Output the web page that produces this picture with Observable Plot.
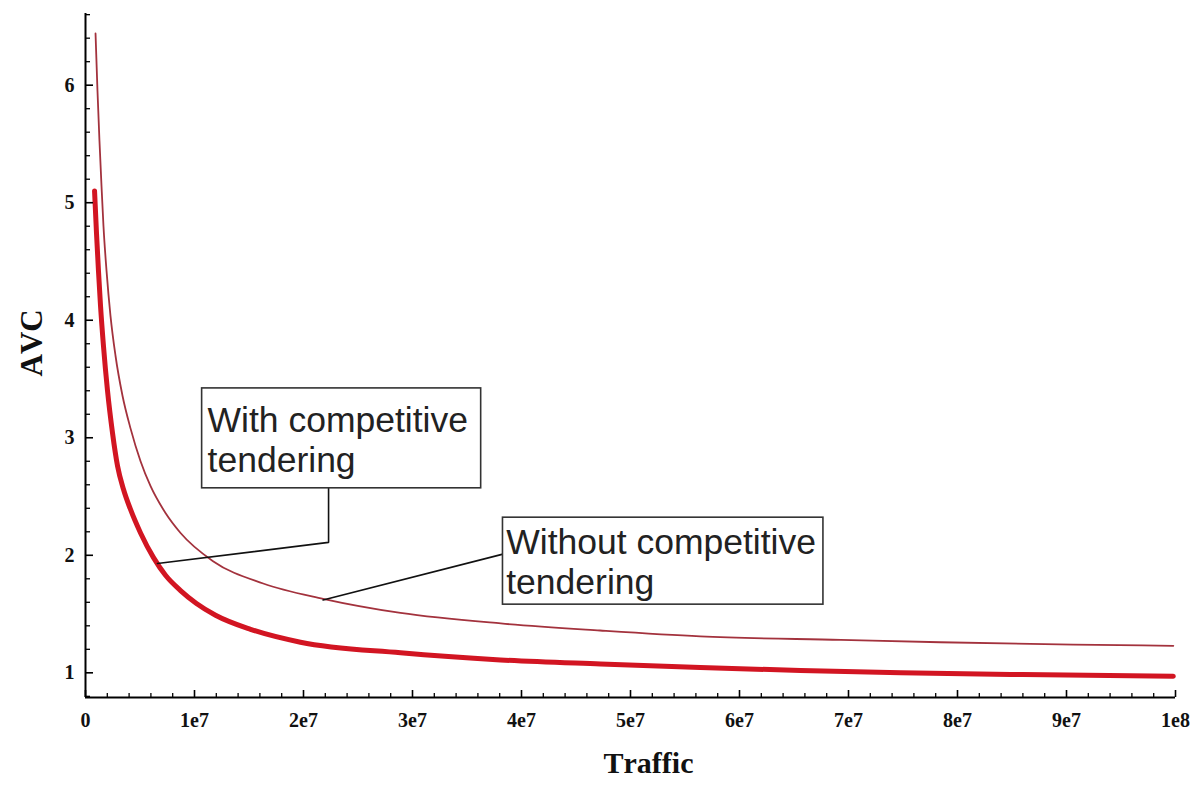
<!DOCTYPE html>
<html><head><meta charset="utf-8">
<script src="https://cdn.jsdelivr.net/npm/d3@7"></script>
<script src="https://cdn.jsdelivr.net/npm/@observablehq/plot@0.6"></script>
<style>body{margin:0;background:#fff} svg text{font-kerning:none}</style>
</head><body><div id="chart"></div>
<script>
// Series: "Without competitive tendering" (thin upper curve)
const withoutTraffic = [0.92e6, 1.10e6, 1.28e6, 1.47e6, 1.65e6, 1.93e6, 2.29e6, 2.75e6, 3.39e6, 4.13e6, 5.05e6, 5.96e6, 7.34e6, 8.72e6, 11.7e6, 16.3e6, 21.8e6, 28.9e6, 38.1e6, 47.2e6, 56.4e6, 69.3e6, 78.4e6, 90.6e6, 99.8e6];
const withoutAVC     = [6.44,  5.95,  5.53,  5.14,  4.80,  4.42,  4.04,  3.70,  3.36,  3.08,  2.80,  2.59,  2.36,  2.19,  1.95,  1.76,  1.63,  1.51,  1.42,  1.36,  1.31,  1.28,  1.26,  1.24,  1.23];
// Series: "With competitive tendering" (thick lower curve)
const withTraffic = [0.83e6, 1.01e6, 1.19e6, 1.38e6, 1.65e6, 2.02e6, 2.48e6, 2.94e6, 3.49e6, 4.13e6, 5.05e6, 6.24e6, 7.34e6, 8.72e6, 10.18e6, 11.93e6, 15.14e6, 19.72e6, 28.9e6, 38.07e6, 47.25e6, 56.4e6, 65.6e6, 74.8e6, 86.0e6, 99.8e6];
const withAVC     = [5.10,  4.74,  4.42,  4.12,  3.78,  3.40,  3.04,  2.76,  2.56,  2.39,  2.19,  1.98,  1.83,  1.70,  1.59,   1.49,   1.37,   1.26,   1.17,  1.11,   1.075,  1.045, 1.02,  1.00,  0.985, 0.97];

// Axes
const xTicks = [0, 1e7, 2e7, 3e7, 4e7, 5e7, 6e7, 7e7, 8e7, 9e7, 1e8];
const xTickLabels = ["0", "1e7", "2e7", "3e7", "4e7", "5e7", "6e7", "7e7", "8e7", "9e7", "1e8"];
const xMinorTicks = d3.range(0, 1e8 + 1, 2e6).filter(v => v % 1e7 !== 0);
const yTicks = [1, 2, 3, 4, 5, 6];
const yTickLabels = ["1", "2", "3", "4", "5", "6"];
const yMinorTicks = [0.8, 1.2, 1.4, 1.6, 1.8, 2.2, 2.4, 2.6, 2.8, 3.2, 3.4, 3.6, 3.8, 4.2, 4.4, 4.6, 4.8, 5.2, 5.4, 5.6, 5.8, 6.2, 6.4, 6.6];
const xTitle = ["Traffic"];
const yTitle = ["AVC"];

// Annotations (data coordinates)
const noteText = ["With competitive\ntendering", "Without competitive\ntendering"];
const noteX1 = [10.7e6, 38.3e6];
const noteX2 = [36.3e6, 67.7e6];
const noteYTop = [3.42, 2.32];
const noteYBottom = [2.57, 1.58];
const noteTextX = [11.2e6, 38.6e6];
const noteTextY = [3.29, 2.25];
const leaderWithX = [22.3e6, 22.3e6, 6.6e6];
const leaderWithY = [2.57, 2.11, 1.93];
const leaderWithoutX = [38.3e6, 21.8e6];
const leaderWithoutY = [2.01, 1.62];

const upper = withoutTraffic.map((x, i) => ({x, y: withoutAVC[i]}));
const lower = withTraffic.map((x, i) => ({x, y: withAVC[i]}));
const notes = noteText.map((t, i) => ({t, x1: noteX1[i], x2: noteX2[i], y1: noteYBottom[i], y2: noteYTop[i], tx: noteTextX[i], ty: noteTextY[i]}));
const leaders = [
  ...leaderWithX.map((x, i) => ({x, y: leaderWithY[i], g: "with"})),
  ...leaderWithoutX.map((x, i) => ({x, y: leaderWithoutY[i], g: "without"}))
];
const xLab = new Map(xTicks.map((d, i) => [d, xTickLabels[i]]));
const yLab = new Map(yTicks.map((d, i) => [d, yTickLabels[i]]));

const serif = "'Liberation Serif', 'DejaVu Serif', serif";
const tickFont = {fontSize: 20, fontWeight: "bold", fontFamily: serif, fill: "#111"};

const chart = Plot.plot({
  width: 1202,
  height: 790,
  marginLeft: 85,
  marginRight: 27,
  marginTop: 13,
  marginBottom: 93,
  x: {domain: [0, 1e8]},
  y: {domain: [0.79, 6.61]},
  style: {background: "#fff"},
  marks: [
    Plot.line(lower, {x: "x", y: "y", stroke: "#d21522", strokeWidth: 5, curve: "monotone-x"}),
    Plot.line(upper, {x: "x", y: "y", stroke: "#a3323d", strokeWidth: 1.8, curve: "monotone-x"}),
    Plot.line(leaders, {x: "x", y: "y", z: "g", stroke: "#111", strokeWidth: 1.6}),
    Plot.rect(notes, {x1: "x1", x2: "x2", y1: "y1", y2: "y2", fill: "#fff", stroke: "#333", strokeWidth: 1.6}),
    Plot.text(notes, {x: "tx", y: "ty", text: "t", textAnchor: "start", lineAnchor: "top", lineHeight: 1.12, fontSize: 35.5, fontFamily: "'Liberation Sans', Arial, sans-serif", fill: "#222"}),
    Plot.ruleX([0], {stroke: "#000", strokeWidth: 2}),
    Plot.ruleY([0.79], {stroke: "#000", strokeWidth: 2}),
    Plot.axisY(yTicks, {tickSize: -8, fill: "none", label: null, strokeWidth: 1.6, stroke: "#000"}),
    Plot.axisY(yMinorTicks, {tickSize: -5, fill: "none", label: null, strokeWidth: 1.3, stroke: "#000"}),
    Plot.axisY(yTicks, {tickSize: 0, tickPadding: 11, label: null, tickFormat: d => yLab.get(d), ...tickFont}),
    Plot.axisX(xTicks, {tickSize: -7, fill: "none", label: null, strokeWidth: 1.6, stroke: "#000"}),
    Plot.axisX(xMinorTicks, {tickSize: -4, fill: "none", label: null, strokeWidth: 1.3, stroke: "#000"}),
    Plot.axisX(xTicks, {tickSize: 0, tickPadding: 15, label: null, tickFormat: d => xLab.get(d), ...tickFont}),
    Plot.text(yTitle, {text: d => d, frameAnchor: "left", dx: -53, dy: 21, rotate: -90, fontSize: 31, fontWeight: "bold", fontFamily: serif, fill: "#111"}),
    Plot.text(xTitle, {text: d => d, frameAnchor: "bottom", dx: 18, dy: 75, fontSize: 30, fontWeight: "bold", fontFamily: serif, fill: "#111"})
  ]
});
document.getElementById("chart").appendChild(chart);
</script>
</body></html>
